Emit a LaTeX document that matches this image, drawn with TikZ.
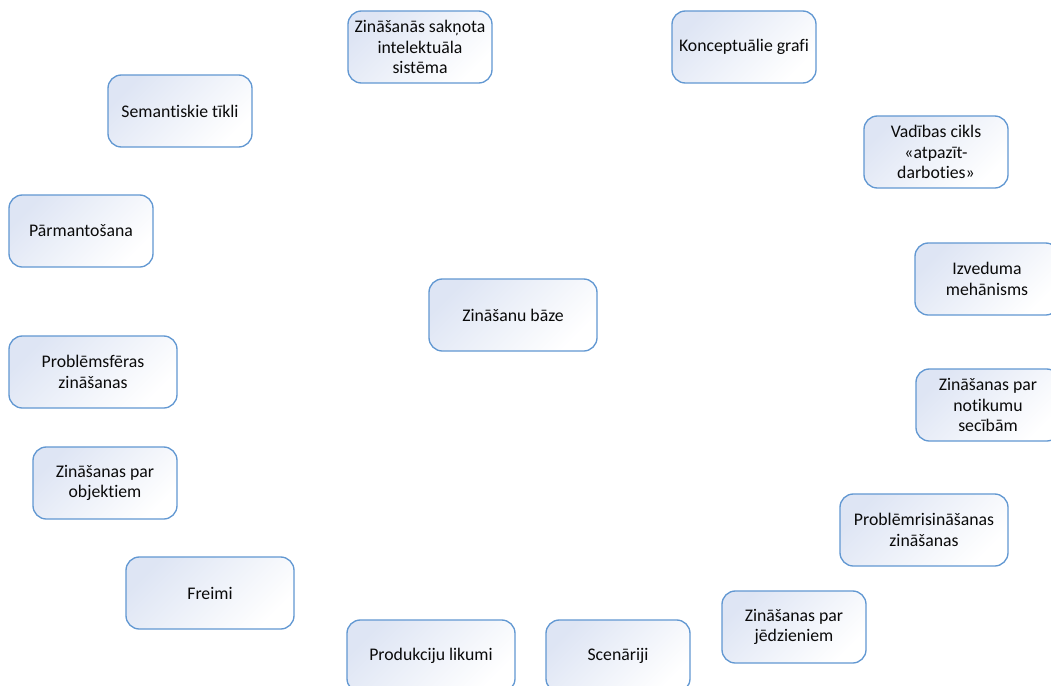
\documentclass[tikz,border=0pt]{standalone}
\usepackage{fontspec}
\setmainfont{Carlito}[Ligatures={NoCommon}]
\definecolor{boxedge}{RGB}{98,152,210}
\definecolor{boxfill}{RGB}{222,229,244}
\definecolor{boxtext}{RGB}{10,10,10}
\tikzset{
  kbox/.style={draw=boxedge, line width=1pt, rounded corners=10pt,
    top color=boxfill, bottom color=white, shading angle=45,
    minimum height=54pt, inner sep=2pt, align=center, text=boxtext,
    font=\fontsize{13.3}{15.4}\selectfont},
  narrow/.style={kbox, minimum width=108pt},
  wide/.style={kbox, minimum width=126pt}
}
\begin{document}
\begin{tikzpicture}[x=0.75pt, y=0.75pt]
  \useasboundingbox (0,0) rectangle (1051,-686);
  \clip (0,0) rectangle (1051,-686);
  \fill[white] (0,0) rectangle (1051,-686);

  % central concept
  \node[wide]   (base)   at (513,-315) {Zināšanu bāze};

  % surrounding concepts, clockwise from the top
  \node[narrow] (system) at (420,-47)  {Zināšanās sakņota\\intelektuāla\\sistēma};
  \node[narrow] (cgraph) at (744,-47)  {Konceptuālie grafi};
  \node[narrow] (cycle)  at (936,-152) {Vadības cikls\\«atpazīt-\\darboties»};
  \node[narrow] (infer)  at (987,-279) {Izveduma\\mehānisms};
  \node[narrow] (events) at (988,-405) {Zināšanas par\\notikumu\\secībām};
  \node[wide]   (solve)  at (924,-530) {Problēmrisināšanas\\zināšanas};
  \node[narrow] (terms)  at (794,-627) {Zināšanas par\\jēdzieniem};
  \node[narrow] (script) at (618,-656) {Scenāriji};
  \node[wide]   (rules)  at (431,-656) {Produkciju likumi};
  \node[wide]   (frames) at (210,-593) {Freimi};
  \node[narrow] (objs)   at (105,-483) {Zināšanas par\\objektiem};
  \node[wide]   (domain) at (93,-372)  {Problēmsfēras\\zināšanas};
  \node[narrow] (inher)  at (81,-231)  {Pārmantošana};
  \node[narrow] (semnet) at (180,-111) {Semantiskie tīkli};
\end{tikzpicture}
\end{document}
